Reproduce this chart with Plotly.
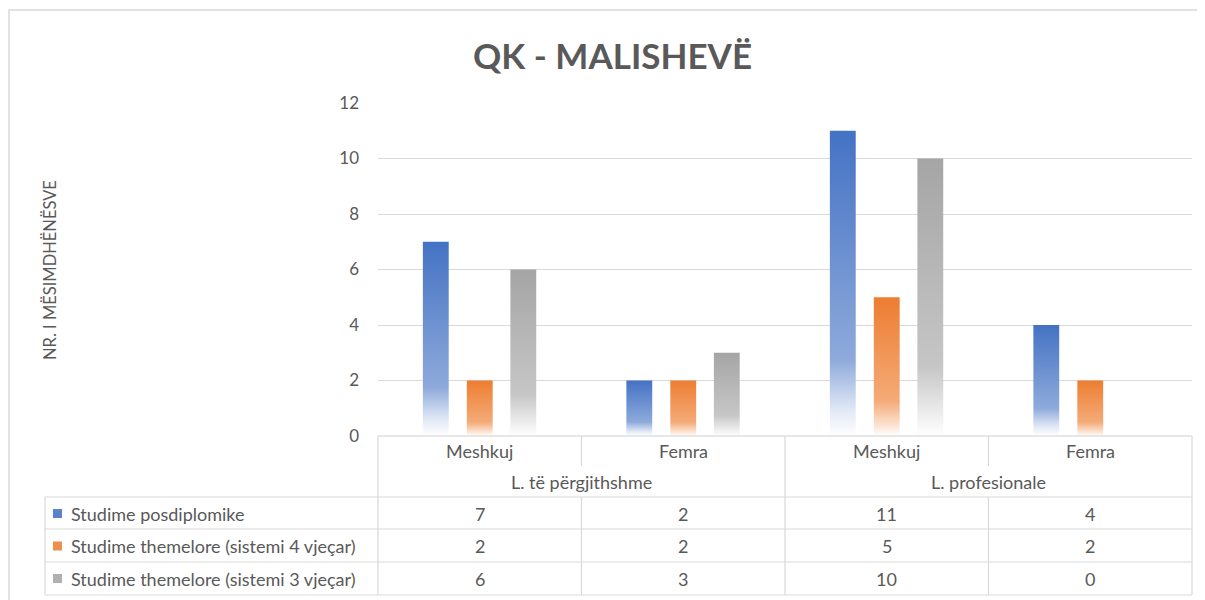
import plotly.graph_objects as go

# ---------------- data ----------------
title_text = "QK - MALISHEVË"
y_title = "NR. I MËSIMDHËNËSVE"
categories = ["Meshkuj", "Femra", "Meshkuj", "Femra"]
groups = ["L. të përgjithshme", "L. profesionale"]
series_names = [
    "Studime posdiplomike",
    "Studime themelore (sistemi 4 vjeçar)",
    "Studime themelore (sistemi 3 vjeçar)",
]
posdiplomike = [7, 2, 11, 4]
themelore_4 = [2, 2, 5, 2]
themelore_3 = [6, 3, 10, 0]
y_ticks = [0, 2, 4, 6, 8, 10, 12]

series_values = [posdiplomike, themelore_4, themelore_3]

# ---------------- styling ----------------
TEXT = "#595959"
GRID = "#d9d9d9"
FONT = "Lato"
colorscales = [
    [[0, "#ffffff"], [0.08, "#e3eaf6"], [0.25, "#8eaadb"], [1, "#4472c4"]],
    [[0, "#ffffff"], [0.08, "#fbe2cf"], [0.25, "#f4ab78"], [1, "#ed7d31"]],
    [[0, "#ffffff"], [0.08, "#ededed"], [0.25, "#c6c6c6"], [1, "#a5a5a5"]],
]
key_colors = ["#5b83cc", "#f08f4d", "#b0b0b0"]
offsets = [-0.216, 0.0, 0.214]
bar_w = 0.127

# page body margin compensation (pixels in the screenshot -> figure pixels)
OX, OY = 8, 8
# plot area in screenshot pixels
L, R, T, B = 378, 1192, 103, 436
W, H = R - L, B - T


def px(x):
    return (x - L) / W


def py(y):
    return (B - y) / H


fig = go.Figure()

# bars drawn as filled shapes with a vertical gradient (one per bar)
for s, vals in enumerate(series_values):
    for i, v in enumerate(vals):
        if v <= 0:
            continue
        c = i + offsets[s]
        x0, x1 = c - bar_w / 2, c + bar_w / 2
        fig.add_trace(
            go.Scatter(
                x=[x0, x1, x1, x0, x0],
                y=[0, 0, v, v, 0],
                mode="lines",
                line=dict(width=0),
                fill="toself",
                fillgradient=dict(type="vertical", colorscale=colorscales[s]),
                name=series_names[s],
                showlegend=False,
                hoverinfo="text",
                text=f"{series_names[s]}: {v}",
            )
        )

shapes = []
annotations = []


def hline(y, xa, xb, color=GRID):
    shapes.append(dict(type="line", xref="paper", yref="paper",
                       x0=px(xa), x1=px(xb), y0=py(y), y1=py(y),
                       line=dict(color=color, width=1.2)))


def vline(x, ya, yb, color=GRID):
    shapes.append(dict(type="line", xref="paper", yref="paper",
                       x0=px(x), x1=px(x), y0=py(ya), y1=py(yb),
                       line=dict(color=color, width=1.2)))


def label(text, x, y, size, xref="paper", xanchor="center", angle=0):
    annotations.append(dict(text=text, xref=xref, yref="paper", x=x, y=y,
                            xanchor=xanchor, yanchor="middle", textangle=angle,
                            showarrow=False,
                            font=dict(family=FONT, size=size, color=TEXT)))


# outer chart border
shapes.append(dict(type="rect", xref="paper", yref="paper",
                   x0=px(9), x1=px(1230), y0=py(10), y1=py(620),
                   line=dict(color="#d9d9d9", width=1.5)))

# data table grid
hline(436, 378, 1192, "#cfcfcf")
for y in [497, 529, 562, 595]:
    hline(y, 45, 1192)
vline(45, 497, 595)
vline(378, 436, 595)
vline(1192, 436, 595)
vline(785, 436, 595)
for x in [581.5, 988.5]:
    vline(x, 436, 466)
    vline(x, 497, 595)

# title
label("<b>" + title_text + "</b>", px(612), py(55), 35)
# y axis title
label(y_title, px(50), py(270), 16.5, angle=-90)

# category / group labels
for i, c in enumerate(categories):
    label(c, i, py(451.5), 18, xref="x")
for g, name in enumerate(groups):
    label(name, 2 * g + 0.5, py(481.5), 18, xref="x")

# table rows
row_y = [513.5, 546, 578.5]
for s, name in enumerate(series_names):
    yc = row_y[s]
    shapes.append(dict(type="rect", xref="paper", yref="paper",
                       x0=px(53), x1=px(62), y0=py(yc + 4.5), y1=py(yc - 4.5),
                       line=dict(width=0), fillcolor=key_colors[s]))
    label(name, px(69), py(yc), 18, xanchor="left")
    for i, v in enumerate(series_values[s]):
        label(str(v), i, py(yc), 18, xref="x")

fig.update_layout(
    width=1205,
    height=600,
    margin=dict(l=L - OX, r=1205 - (R - OX), t=T - OY, b=600 - (B - OY)),
    paper_bgcolor="white",
    plot_bgcolor="white",
    showlegend=False,
    shapes=shapes,
    annotations=annotations,
    font=dict(family=FONT, color=TEXT),
    xaxis=dict(range=[-0.5, 3.5], showticklabels=False, showgrid=False,
               zeroline=False, showline=False, fixedrange=True),
    yaxis=dict(range=[0, 12], tickvals=y_ticks, gridcolor=GRID, gridwidth=1.2,
               zeroline=False, showline=False, ticks="",
               ticklabelstandoff=18,
               tickfont=dict(family=FONT, size=17, color=TEXT), fixedrange=True),
)

fig.write_html("out.html")
